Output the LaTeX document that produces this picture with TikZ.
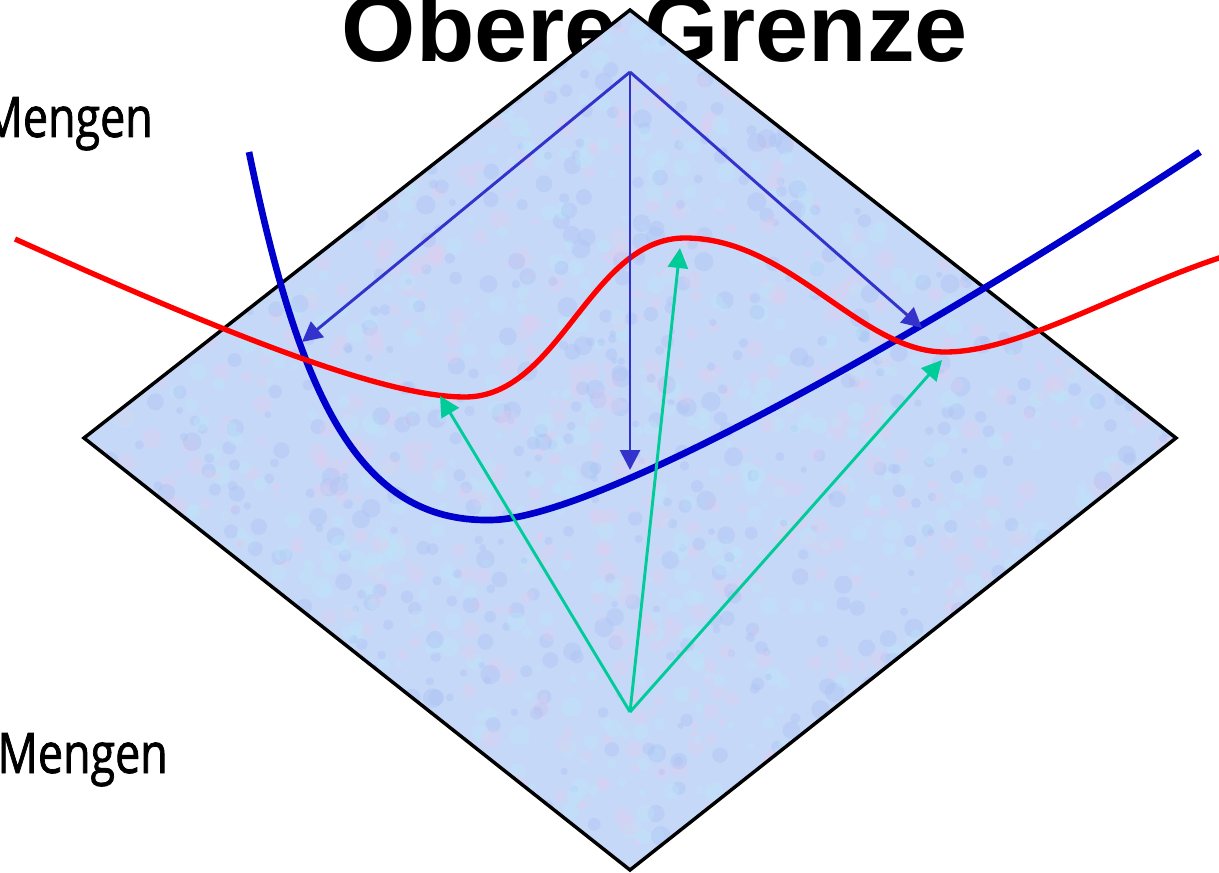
\documentclass[tikz,border=0pt]{standalone}
\usepackage{fontspec}
\setmainfont{Liberation Sans}
\newfontfamily\handfont[FakeStretch=0.8,FakeBold=1.3]{Open Sans}
\usetikzlibrary{arrows.meta}
\definecolor{curveblue}{HTML}{0000CC}
\definecolor{arrblue}{HTML}{3333CC}
\definecolor{arrgreen}{HTML}{00CC99}
\definecolor{planefill}{HTML}{C6D8F8}
\definecolor{mottleA}{HTML}{A4BCF2}
\definecolor{mottleB}{HTML}{E6CCEE}
\definecolor{mottleC}{HTML}{BCE8FA}
\tikzset{
  plane/.style={draw=black, line width=2.6pt, line join=miter},
  bluecurve/.style={draw=curveblue, line width=5pt},
  redcurve/.style={draw=red, line width=4pt},
  bluearrow/.style={draw=arrblue, line width=2.2pt, -{Triangle[length=15pt,width=15pt]}, arrblue},
  greenarrow/.style={draw=arrgreen, line width=2.2pt, -{Triangle[length=15pt,width=15pt]}, arrgreen},
  title/.style={font=\fontsize{71.6}{80}\selectfont\bfseries, anchor=base, inner sep=0pt},
  setlabel/.style={font=\handfont\fontsize{42}{48}\selectfont, anchor=base east, inner sep=0pt},
}
\pgfmathsetseed{7}
\begin{document}
\begin{tikzpicture}[x=0.75pt, y=-0.75pt]
\useasboundingbox (0,0) rectangle (1219,873);
\clip (0,0) rectangle (1219,873);
% title behind the plane
\node[title] (title) at (655,62) {Obere Grenze};
% labels
\node[setlabel] (upper) at (153,137) {Mengen};
\node[setlabel] (lower) at (168,773) {Mengen};
% plane
\coordinate (dT) at (630,10);
\coordinate (dL) at (84,438);
\coordinate (dB) at (630,870);
\coordinate (dR) at (1176,438);
\fill[planefill] (dT) -- (dL) -- (dB) -- (dR) -- cycle;
\begin{scope}
\clip (dT) -- (dL) -- (dB) -- (dR) -- cycle;
\foreach \i in {1,...,2600} {
  \pgfmathsetmacro{\px}{84+rnd*1092}
  \pgfmathsetmacro{\py}{10+rnd*860}
  \pgfmathsetmacro{\pr}{3+rnd*7}
  \pgfmathtruncatemacro{\pc}{int(rnd*3)}
  \ifcase\pc
    \fill[mottleA, opacity=0.3] (\px,\py) circle[radius=\pr];
  \or
    \fill[mottleB, opacity=0.3] (\px,\py) circle[radius=\pr];
  \or
    \fill[mottleC, opacity=0.35] (\px,\py) circle[radius=\pr];
  \fi
}
\end{scope}
\draw[plane] (dT) -- (dL) -- (dB) -- (dR) -- cycle;
% sources and targets
\coordinate (top) at (630,72);
\coordinate (bot) at (630,712);
\coordinate (b1) at (302,342);
\coordinate (b2) at (630,470);
\coordinate (b3) at (922,328);
\coordinate (g1) at (440,396);
\coordinate (g2) at (680,248);
\coordinate (g3) at (942,360);
% curves
\draw[bluecurve] (249,152) .. controls (300,400) and (360,522) .. (490,520)
  .. controls (600,520) and (950,317) .. (1200,152);
\draw[redcurve] (15,239) .. controls (250,345) and (390,397) .. (465,397)
  .. controls (560,397) and (590,238) .. (685,238)
  .. controls (790,238) and (860,352) .. (945,352)
  .. controls (1020,352) and (1120,290) .. (1225,256);
% arrows
\draw[bluearrow] (top) -- (b1);
\draw[bluearrow] (top) -- (b2);
\draw[bluearrow] (top) -- (b3);
\draw[greenarrow] (bot) -- (g1);
\draw[greenarrow] (bot) -- (g2);
\draw[greenarrow] (bot) -- (g3);
\end{tikzpicture}
\end{document}
